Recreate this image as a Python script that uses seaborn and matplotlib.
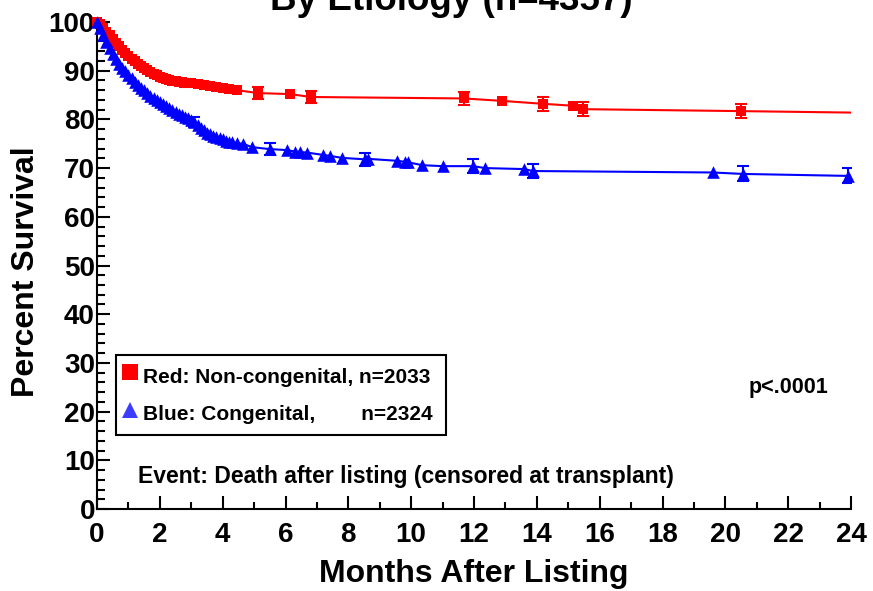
import numpy as np
import pandas as pd
import matplotlib.pyplot as plt
import seaborn as sns
from matplotlib.lines import Line2D


# Survival estimates (months after listing, percent survival)
red_months = [0.0, 0.1, 0.2, 0.3, 0.4, 0.5, 0.6, 0.7, 0.8, 0.9,
              1.0, 1.1, 1.2, 1.3, 1.4, 1.5, 1.6, 1.7, 1.8, 1.9,
              2.0, 2.1, 2.2, 2.3, 2.4, 2.5, 2.6, 2.7, 2.8, 3.0,
              3.2, 3.4, 3.6, 3.8, 4.0, 4.2, 4.46, 5.13, 6.15, 6.8,
              11.69, 12.9, 14.2, 15.16, 15.48, 20.5]
red_surv = [100.0, 99.5, 98.8, 98.0, 97.3, 96.5, 95.7, 95.0, 94.2, 93.6,
            93.0, 92.4, 91.9, 91.4, 91.0, 90.5, 90.1, 89.7, 89.4, 89.1,
            88.8, 88.5, 88.2, 88.0, 87.9, 87.8, 87.7, 87.6, 87.5, 87.4,
            87.2, 87.0, 86.8, 86.6, 86.4, 86.2, 86.0, 85.4, 85.2, 84.6,
            84.3, 83.8, 83.2, 82.8, 82.1, 81.7]
red_end_month = 24.0
red_end_surv = 81.4

blue_months = [0.0, 0.1, 0.2, 0.3, 0.4, 0.5, 0.6, 0.7, 0.8, 0.9,
               1.0, 1.1, 1.2, 1.3, 1.4, 1.5, 1.6, 1.7, 1.8, 1.9,
               2.0, 2.1, 2.2, 2.3, 2.4, 2.5, 2.6, 2.7, 2.8, 2.9,
               3.0, 3.1, 3.2, 3.3, 3.4, 3.5, 3.6, 3.7, 3.8, 3.9,
               4.0, 4.1, 4.2, 4.3, 4.45, 4.65, 4.93, 5.5, 6.04, 6.3,
               6.46, 6.68, 7.2, 7.42, 7.8, 8.53, 8.63, 9.55, 9.8, 9.9,
               10.35, 11.0, 11.97, 12.36, 13.6, 13.87, 19.6, 20.57, 23.9]
blue_surv = [100.0, 98.7, 97.3, 95.9, 94.6, 93.5, 92.4, 91.4, 90.6, 89.9,
             89.1, 88.4, 87.7, 87.1, 86.5, 86.0, 85.4, 84.9, 84.4, 84.0,
             83.6, 83.2, 82.8, 82.3, 81.9, 81.6, 81.2, 80.9, 80.5, 80.2,
             79.9, 79.4, 78.8, 78.2, 77.8, 77.3, 76.9, 76.6, 76.4, 76.1,
             75.9, 75.6, 75.4, 75.3, 75.1, 75.0, 74.3, 73.9, 73.7, 73.4,
             73.3, 73.2, 72.7, 72.5, 72.1, 71.8, 71.9, 71.5, 71.3, 71.2,
             70.6, 70.4, 70.4, 70.0, 69.8, 69.4, 69.1, 68.8, 68.4]
blue_end_month = 24.0
blue_end_surv = 68.4

# points that carry confidence bars (half-width in percent)
red_err_months = [2.8, 5.13, 6.8, 11.69, 14.2, 15.48, 20.5]
red_err_surv = [87.5, 85.4, 84.6, 84.3, 83.2, 82.1, 81.7]
red_err_half = [0.8, 1.2, 1.2, 1.25, 1.4, 1.4, 1.5]

blue_err_months = [3.1, 5.5, 8.53, 11.97, 13.87, 20.57, 23.9]
blue_err_surv = [79.4, 73.9, 71.8, 70.4, 69.4, 68.8, 68.4]
blue_err_half = [1.0, 1.3, 1.4, 1.45, 1.5, 1.55, 1.55]

x_ticks = list(range(0, 25, 2))
y_ticks = list(range(0, 101, 10))

red_df = pd.DataFrame({'Months': red_months, 'Survival': red_surv})
blue_df = pd.DataFrame({'Months': blue_months, 'Survival': blue_surv})
red_line = pd.concat([red_df, pd.DataFrame({'Months': [red_end_month], 'Survival': [red_end_surv]})])
blue_line = pd.concat([blue_df, pd.DataFrame({'Months': [blue_end_month], 'Survival': [blue_end_surv]})])

sns.set_style('ticks')
plt.rcParams['font.family'] = ['Liberation Sans', 'DejaVu Sans']
plt.rcParams['font.weight'] = 'bold'
# seaborn greys the text; the original is pure black
for key in ['text.color', 'axes.labelcolor', 'xtick.color', 'ytick.color']:
    plt.rcParams[key] = 'black'

fig = plt.figure(figsize=(8.73, 5.91), dpi=100)
ax = fig.add_axes([97 / 873, 1 - 509 / 591, 754 / 873, 487 / 591])

# fitted lines
sns.lineplot(data=red_line, x='Months', y='Survival', color='#ff0000', lw=1.5,
             estimator=None, ax=ax, zorder=2)
sns.lineplot(data=blue_line, x='Months', y='Survival', color='#0000ff', lw=1.5,
             estimator=None, ax=ax, zorder=2)

# estimates
sns.scatterplot(data=red_df, x='Months', y='Survival', marker='s', s=56, color='#ff0000',
                linewidth=0, ax=ax, zorder=3, clip_on=False)
sns.scatterplot(data=blue_df, x='Months', y='Survival', marker='^', s=82, color='#0000ff',
                linewidth=0, ax=ax, zorder=3, clip_on=False)

ax.errorbar(red_err_months, red_err_surv, yerr=red_err_half, fmt='none', ecolor='#ff0000',
            elinewidth=1.5, capsize=4.5, capthick=1.5, zorder=3)
ax.errorbar(blue_err_months, blue_err_surv, yerr=blue_err_half, fmt='none', ecolor='#0000ff',
            elinewidth=1.5, capsize=4.5, capthick=1.5, zorder=3)

ax.set_xlim(0, 24)
ax.set_ylim(0, 100)
ax.set_xticks(x_ticks)
ax.set_xticks(range(1, 24, 2), minor=True)
ax.set_yticks(y_ticks)
ax.set_yticks(range(0, 101, 2), minor=True)
sns.despine(ax=ax)
for side in ['left', 'bottom']:
    ax.spines[side].set_linewidth(1.5)
    ax.spines[side].set_color('black')

ax.tick_params(which='major', direction='in', length=9.5, width=1.5, labelsize=20,
               color='black', labelcolor='black')
ax.tick_params(axis='x', which='minor', direction='in', length=5, width=1.5, color='black')
ax.tick_params(axis='y', which='minor', direction='in', length=6, width=1.5, color='black')
ax.tick_params(axis='x', which='major', pad=9)
ax.tick_params(axis='y', which='major', pad=1.5)
for lab in ax.get_xticklabels() + ax.get_yticklabels():
    lab.set_fontweight('bold')

ax.set_xlabel('Months After Listing', fontsize=23, fontweight='bold')
ax.set_ylabel('Percent Survival', fontsize=23, fontweight='bold')
ax.xaxis.set_label_coords(0.5, -0.102)
ax.yaxis.set_label_coords(-0.074, 0.487)

# top line of the title runs off the page, as in the source chart
fig.text(451 / 873, 1 - 10 / 591, 'By Etiology (n=4357)', ha='center', va='baseline',
         fontsize=26.5, fontweight='bold')

ax.text(22.0, 25.0, 'p<.0001', ha='center', va='center', fontsize=15.5, fontweight='bold')
ax.text(1.3, 6.6, 'Event: Death after listing (censored at transplant)', ha='left',
        va='center', fontsize=16.5, fontweight='bold')

handles = [Line2D([], [], ls='none', marker='s', ms=11, color='#ff0000', mew=0),
           Line2D([], [], ls='none', marker='^', ms=12, color='#3c3cff', mew=0)]
labels = ['Red: Non-congenital, n=2033', 'Blue: Congenital,        n=2324']
leg = ax.legend(handles, labels, loc='upper left',
                bbox_to_anchor=(19 / 754, 74 / 487, 330 / 754, 80 / 487), mode='expand',
                borderaxespad=0, borderpad=0.3, handlelength=0.75, handleheight=1.85,
                handletextpad=0.25, labelspacing=0.35, fancybox=False, framealpha=1,
                edgecolor='black', prop={'size': 15, 'weight': 'bold'})
leg.get_frame().set_linewidth(1.5)

fig.savefig('out.png', dpi=100)
